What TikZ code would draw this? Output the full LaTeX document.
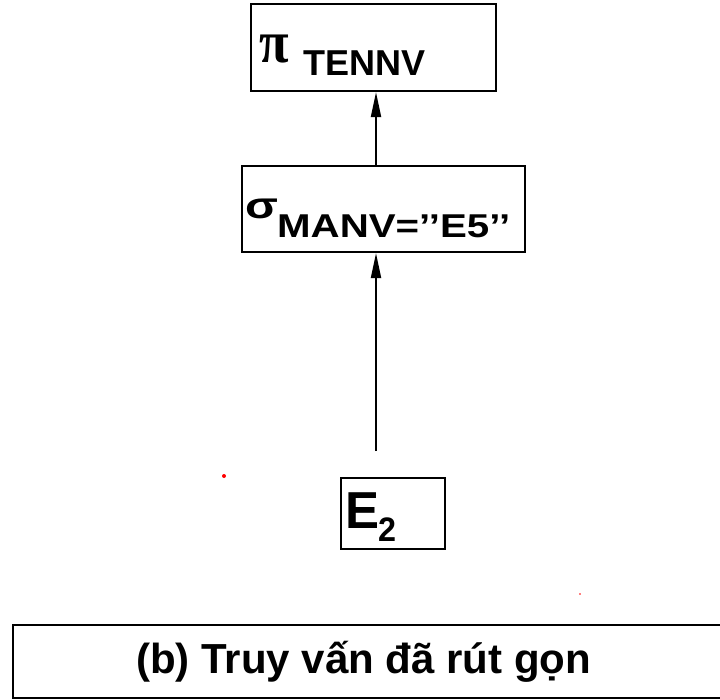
\documentclass[tikz,border=0pt]{standalone}
\usepackage{fontspec}
\setmainfont{Liberation Sans}
\newfontfamily\greekserif{Liberation Serif}
\usetikzlibrary{arrows.meta}

\tikzset{
  opbox/.style={draw=black, line width=2.2pt, inner sep=0pt, fill=none},
  link/.style={-{Triangle[length=25pt,width=10pt]}, line width=2pt},
  label/.style={anchor=base west, inner sep=0pt, font=\bfseries},
  dot/.style={fill=red, draw=none}
}

\begin{document}
\begin{tikzpicture}[x=1pt, y=-1pt]
  \useasboundingbox (0,0) rectangle (720,699);

  % operator boxes of the reduced query tree
  \node[opbox, minimum width=245pt, minimum height=87pt] (proj) at (373.5,47.5) {};
  \node[opbox, minimum width=283pt, minimum height=86pt] (sel) at (383.5,209) {};
  \node[opbox, minimum width=104pt, minimum height=71pt] (rel) at (393,513.5) {};

  % projection label
  \node[anchor=base west, inner sep=0pt] (pisym) at (259,62)
    {\scalebox{0.9}[1]{\greekserif\bfseries\fontsize{60}{60}\selectfont π}};
  \node[label] (projattr) at (303,75)
    {\fontsize{36}{36}\selectfont TENNV};

  % selection label
  \node[anchor=base west, inner sep=0pt] (sigsym) at (245,218)
    {\scalebox{1.3}[1]{\bfseries\fontsize{37}{37}\selectfont σ}};
  \node[label] (selcond) at (277,237)
    {\scalebox{1.22}[1]{\fontsize{33}{33}\selectfont MANV=’’E5’’}};

  % relation label
  \node[label] (relname) at (345,528)
    {\scalebox{0.98}[1]{\fontsize{52}{52}\selectfont E}};
  \node[label] (relidx) at (378,541)
    {\scalebox{0.95}[1]{\fontsize{34}{34}\selectfont 2}};

  % connectors
  \coordinate (tail) at (376,451);
  \draw[link] (tail) -- (sel.south -| tail);
  \draw[link] (sel.north -| tail) -- (proj.south -| tail);

  % stray marks
  \fill[dot] (224,476) circle (2pt);
  \fill[dot] (580,594) circle (0.8pt);

  % caption box
  \node[opbox, minimum width=727pt, minimum height=73pt] (capbox) at (376.5,661.5) {};
  \node[label] (captext) at (136,673)
    {\fontsize{42}{42}\selectfont (b) Truy vấn đã rút gọn};
\end{tikzpicture}
\end{document}
